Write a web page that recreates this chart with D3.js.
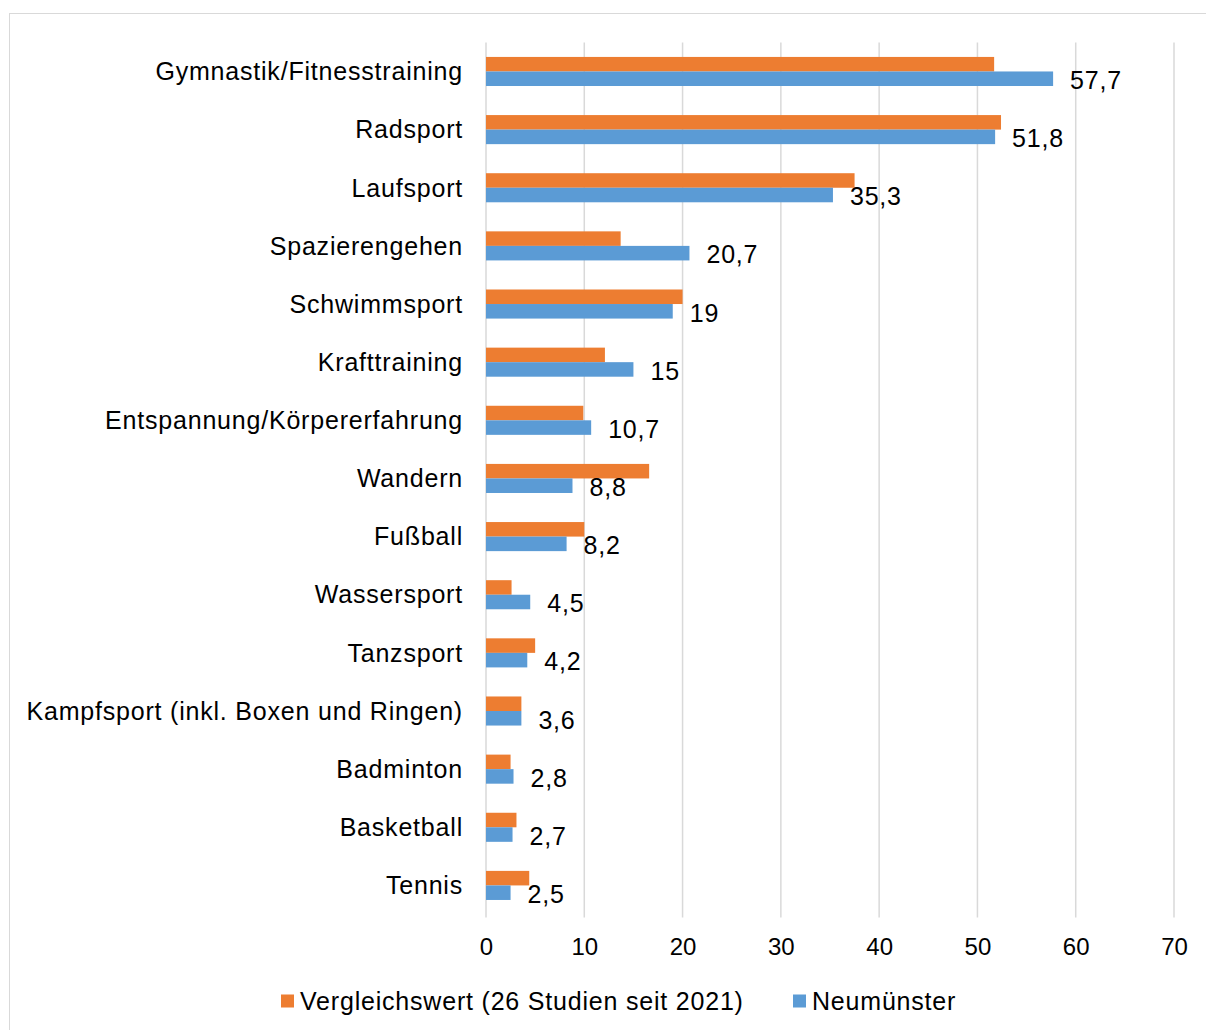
<!DOCTYPE html>
<html>
<head>
<meta charset="utf-8">
<script src="https://cdn.jsdelivr.net/npm/d3@7"></script>
<style>
    body { margin: 0; background: #fff; }
    text { font-family: 'Liberation Sans', Arial, sans-serif; fill: #000; }
</style>
</head>
<body>
<div id="chart"></div>
<script>
let categories = ['Gymnastik/Fitnesstraining', 'Radsport', 'Laufsport', 'Spazierengehen', 'Schwimmsport',
    'Krafttraining', 'Entspannung/Körpererfahrung', 'Wandern', 'Fußball', 'Wassersport', 'Tanzsport',
    'Kampfsport (inkl. Boxen und Ringen)', 'Badminton', 'Basketball', 'Tennis']
let vergleichswert = [51.7, 52.4, 37.5, 13.7, 20.0, 12.1, 9.9, 16.6, 10.0, 2.6, 5.0, 3.6, 2.5, 3.1, 4.4]
let neumuenster = [57.7, 51.8, 35.3, 20.7, 19, 15, 10.7, 8.8, 8.2, 4.5, 4.2, 3.6, 2.8, 2.7, 2.5]
let xTicks = [0, 10, 20, 30, 40, 50, 60, 70]
let seriesNames = ['Vergleichswert (26 Studien seit 2021)', 'Neumünster']
let colors = ['#ED7D31', '#5B9BD5']

function drawChart() {
    let svgWidth = 1206
    let svgHeight = 1030
    let padding = { 'left': 486, 'right': 32, 'top': 42.4, 'bottom': 115.5 }

    let svg = d3.select('#chart').append('svg')
        .attr('width', svgWidth)
        .attr('height', svgHeight)

    // outer frame
    svg.append('rect')
        .attr('x', 9.5)
        .attr('y', 13.5)
        .attr('width', svgWidth)
        .attr('height', svgHeight)
        .attr('fill', 'none')
        .attr('stroke', '#d9d9d9')
        .attr('stroke-width', 1)

    let x = d3.scaleLinear()
        .domain([0, 70])
        .range([padding.left, svgWidth - padding.right])

    let y = d3.scaleBand()
        .domain(categories)
        .range([padding.top, svgHeight - padding.bottom])
        .paddingInner(0.5)
        .paddingOuter(0.25)

    let sub = d3.scaleBand()
        .domain([0, 1])
        .range([0, y.bandwidth()])

    // gridlines
    svg.append('g')
        .selectAll('line')
        .data(xTicks)
        .enter()
        .append('line')
        .attr('x1', d => x(d))
        .attr('x2', d => x(d))
        .attr('y1', padding.top)
        .attr('y2', svgHeight - padding.bottom + 3)
        .attr('stroke', '#d9d9d9')
        .attr('stroke-width', 1.5)

    let axis_x = d3.axisBottom()
        .scale(x)
        .tickValues(xTicks)
        .tickSize(0)
        .tickPadding(0)
        .tickFormat(d => d)

    let gx = svg.append('g')
        .attr('transform', `translate(0, 947)`)
        .call(axis_x)
    gx.select('.domain').remove()
    gx.selectAll('text')
        .attr('dy', '0.35em')
        .attr('y', 0)
        .attr('font-size', '24px')
        .attr('fill', '#000')
        .style('font-family', "'Liberation Sans', Arial, sans-serif")

    // category labels
    svg.append('g')
        .selectAll('text')
        .data(categories)
        .enter()
        .append('text')
        .attr('x', 463)
        .attr('y', d => y(d) + y.bandwidth() / 2)
        .attr('dy', '0.35em')
        .attr('text-anchor', 'end')
        .attr('font-size', '25px')
        .attr('letter-spacing', '0.8px')
        .text(d => d)

    let series = [vergleichswert, neumuenster]
    series.forEach((vals, s) => {
        svg.append('g')
            .selectAll('rect')
            .data(vals)
            .enter()
            .append('rect')
            .attr('x', x(0))
            .attr('y', (d, i) => y(categories[i]) + sub(s))
            .attr('width', d => x(d) - x(0))
            .attr('height', sub.bandwidth())
            .attr('fill', colors[s])
    })

    // value labels for Neumünster
    svg.append('g')
        .selectAll('text')
        .data(neumuenster)
        .enter()
        .append('text')
        .attr('x', d => x(d) + 17)
        .attr('y', (d, i) => y(categories[i]) + sub(1) + sub.bandwidth() / 2 + 1.5)
        .attr('dy', '0.35em')
        .attr('font-size', '25px')
        .attr('letter-spacing', '0.8px')
        .text(d => String(d).replace('.', ','))

    // legend
    let legend = svg.append('g')
    let lx = [281, 793]
    seriesNames.forEach((name, i) => {
        legend.append('rect')
            .attr('x', lx[i])
            .attr('y', 994.5)
            .attr('width', 13)
            .attr('height', 13)
            .attr('fill', colors[i])
        legend.append('text')
            .attr('x', lx[i] + 19)
            .attr('y', 1001)
            .attr('dy', '0.35em')
            .attr('font-size', '25px')
            .attr('letter-spacing', '0.8px')
            .text(name)
    })
}

drawChart()
</script>
</body>
</html>
